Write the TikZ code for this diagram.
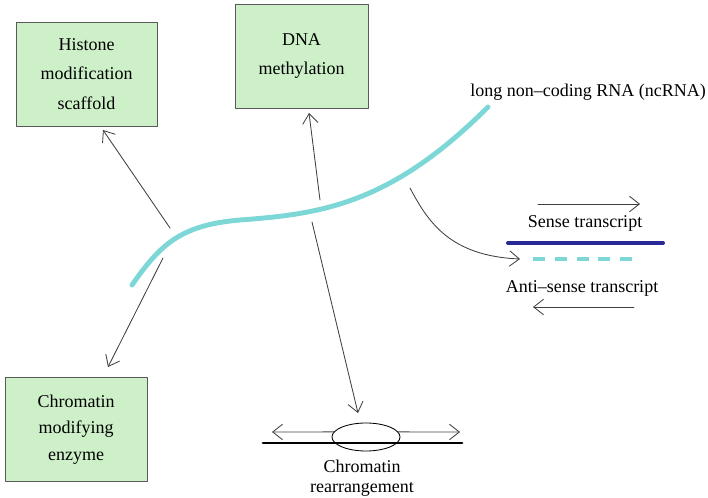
\documentclass[tikz,border=0pt]{standalone}
\usepackage{fontspec}
\setmainfont{Liberation Serif}
\usetikzlibrary{arrows.meta,shapes.geometric}
\definecolor{boxgreen}{RGB}{205,240,200}
\definecolor{rnacyan}{RGB}{125,215,215}
\definecolor{sensenavy}{RGB}{40,40,150}
\tikzset{
  effect/.style={draw=black!65,fill=boxgreen,align=center,minimum height=2.6cm,
    font=\fontsize{12.8}{21}\selectfont},
  lbl/.style={align=center,font=\fontsize{12.8}{14}\selectfont},
  barb/.style={-{Straight Barb[length=7pt,width=11pt]},black!75,line width=0.6pt},
}
\begin{document}
\begin{tikzpicture}[x=0.025cm,y=-0.025cm,line cap=round,line join=round]
\useasboundingbox (0,0) rectangle (708,498);
% effects of the ncRNA
\node[effect,minimum width=3.525cm] (histone) at (86.5,74) {Histone\\modification\\scaffold};
\node[effect,minimum width=3.325cm] (dna) at (301.5,56) {DNA\\methylation};
\node[effect,minimum width=3.55cm,font=\fontsize{12.8}{19}\selectfont] (enzyme) at (76,429.5)
  {Chromatin\\modifying\\enzyme};
% the ncRNA itself
\draw[rnacyan,line width=3.5pt] (132,285) .. controls (160,245) and (180,225) .. (240,220)
  .. controls (320,214) and (390,205) .. (488,107);
\node[lbl] (rna) at (588,92) {long non--coding RNA (ncRNA)};
% ends of the connectors
\coordinate (h0) at (170,228); \coordinate (h1) at (103,130);
\coordinate (d0) at (320,200); \coordinate (d1) at (309,113);
\coordinate (e0) at (163,258); \coordinate (e1) at (108,367);
\coordinate (c0) at (312,222); \coordinate (c1) at (358,413);
\coordinate (t0) at (410,188); \coordinate (t1) at (520,259);
\draw[barb] (h0) -- (h1);
\draw[barb] (d0) -- (d1);
\draw[barb] (e0) -- (e1);
\draw[barb] (c0) -- (c1);
\draw[barb] (t0) .. controls (428,222) and (450,256) .. (t1);
% sense / anti-sense pair
\coordinate (s0) at (538,204); \coordinate (s1) at (640,204);
\coordinate (a0) at (634,307); \coordinate (a1) at (533,307);
\draw[barb] (s0) -- (s1);
\node[lbl] (sense) at (585,223) {Sense transcript};
\draw[sensenavy,line width=2.8pt] (508,243) -- (663,243);
\draw[rnacyan,line width=2.2pt,line cap=butt,dash pattern=on 8.5pt off 7pt] (533,259) -- (640,259);
\node[lbl] (anti) at (582,288) {Anti--sense transcript};
\draw[barb] (a0) -- (a1);
% chromatin rearrangement
\draw[line width=2.1pt] (263,443) -- (462,443);
\node[draw,ellipse,line width=0.6pt,minimum width=1.7cm,minimum height=0.7cm] (knot) at (366,437) {};
\coordinate (kl) at (272,432); \coordinate (kr) at (460,432);
\draw[barb] (knot.171) -- (kl);
\draw[barb] (knot.9) -- (kr);
\node[lbl] (rearr) at (362,478) {Chromatin\\rearrangement};
\end{tikzpicture}
\end{document}
